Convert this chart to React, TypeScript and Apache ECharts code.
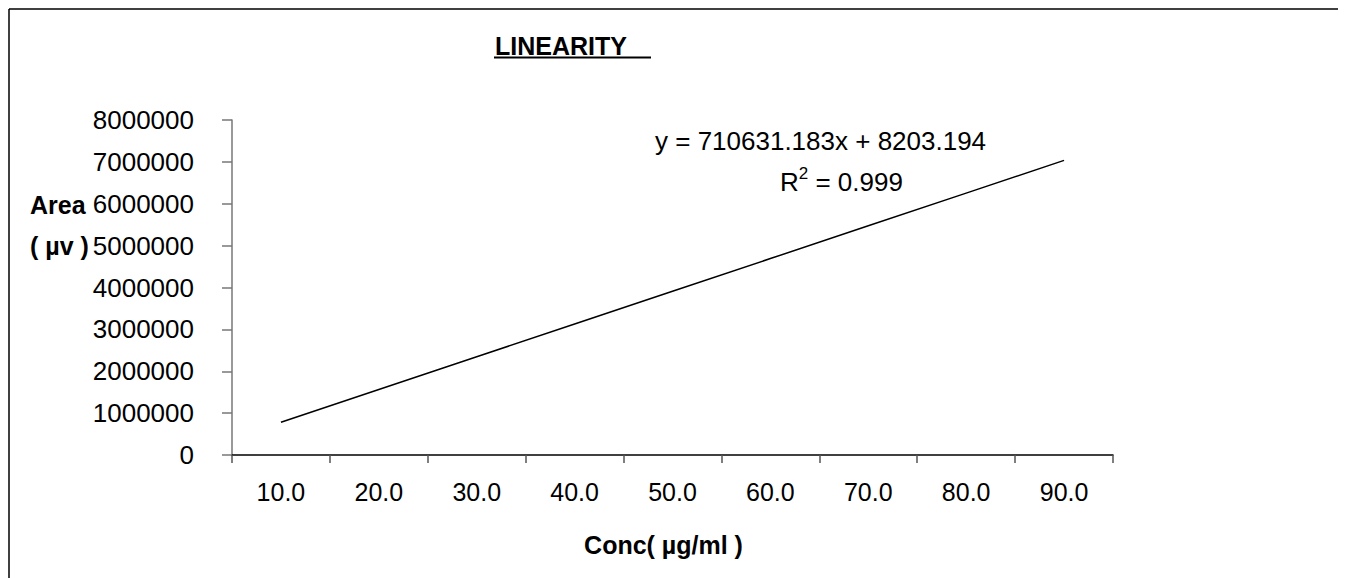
import React, { useEffect, useRef } from "react";
import * as echarts from "echarts";

const concLabels = ["10.0", "20.0", "30.0", "40.0", "50.0", "60.0", "70.0", "80.0", "90.0"];
const areaValues = [781500, 1563400, 2345200, 3127100, 3908900, 4690800, 5472600, 6254500, 7036300];
const yMin = 0;
const yMax = 8000000;
const yStep = 1000000;
const titleText = "LINEARITY";
const equationText = "y = 710631.183x + 8203.194";
const r2Value = "0.999";
const xName = "Conc( µg/ml )";
const yNameLines = ["Area", "( µv )"];

const FONT = "'Liberation Sans', Arial, Helvetica, sans-serif";

export default function App() {
  const ref = useRef<HTMLDivElement>(null);

  useEffect(() => {
    document.documentElement.style.overflow = "hidden";
    if (!ref.current) return;
    const chart = echarts.init(ref.current, null, { renderer: "svg" });
    chart.setOption({
      animation: false,
      backgroundColor: "#ffffff",
      grid: { left: 224, top: 112, width: 881, height: 335, containLabel: false },
      xAxis: {
        type: "category",
        data: concLabels,
        boundaryGap: true,
        name: xName,
        nameLocation: "middle",
        nameGap: 90,
        nameTextStyle: {
          fontFamily: FONT,
          fontSize: 25,
          fontWeight: "bold",
          color: "#000",
          verticalAlign: "middle",
          padding: [0, 18, 0, 0],
        },
        axisLine: { show: true, lineStyle: { color: "#000", width: 1.5 } },
        axisTick: { show: true, length: 8, alignWithLabel: false, lineStyle: { color: "#555", width: 1.5 } },
        axisLabel: { margin: 24, fontFamily: FONT, fontSize: 25, color: "#000" },
        splitLine: { show: false },
      },
      yAxis: {
        type: "value",
        min: yMin,
        max: yMax,
        interval: yStep,
        axisLine: { show: true, lineStyle: { color: "#777", width: 1.5 } },
        axisTick: { show: true, length: 10, lineStyle: { color: "#777", width: 1.5 } },
        axisLabel: {
          margin: 38,
          fontFamily: FONT,
          fontSize: 26,
          color: "#000",
          formatter: (v: number) => String(v),
        },
        splitLine: { show: false },
      },
      series: [
        {
          type: "line",
          data: areaValues,
          showSymbol: false,
          symbol: "none",
          lineStyle: { color: "#000", width: 1.5 },
        },
      ],
      graphic: [
        { type: "line", shape: { x1: 1, y1: 1, x2: 1338, y2: 1 }, style: { stroke: "#000", lineWidth: 1.5 } },
        { type: "line", shape: { x1: 1, y1: 1, x2: 1, y2: 570 }, style: { stroke: "#000", lineWidth: 1.5 } },
        {
          type: "text",
          left: 487,
          top: 25,
          style: { text: titleText, font: `bold 25px ${FONT}`, fill: "#000" },
        },
        { type: "line", shape: { x1: 486, y1: 49.5, x2: 643, y2: 49.5 }, style: { stroke: "#000", lineWidth: 2 } },
        {
          type: "text",
          x: 647,
          y: 133,
          style: { text: equationText, font: `26px ${FONT}`, fill: "#000", verticalAlign: "middle" },
        },
        {
          type: "text",
          x: 772,
          y: 172,
          style: {
            text: `{r|R}{s|2}{r| = ${r2Value}}`,
            verticalAlign: "middle",
            rich: {
              r: { fontFamily: FONT, fontSize: 26, fill: "#000", color: "#000", verticalAlign: "bottom", lineHeight: 30 },
              s: { fontFamily: FONT, fontSize: 17, fill: "#000", color: "#000", verticalAlign: "top", lineHeight: 30 },
            },
          },
        },
        {
          type: "text",
          x: 22,
          y: 197,
          style: { text: yNameLines[0], font: `bold 25px ${FONT}`, fill: "#000", verticalAlign: "middle" },
        },
        {
          type: "text",
          x: 22,
          y: 238,
          style: { text: yNameLines[1], font: `bold 25px ${FONT}`, fill: "#000", verticalAlign: "middle" },
        },
      ],
    });
    return () => chart.dispose();
  }, []);

  return <div ref={ref} style={{ width: 1338, height: 570 }} />;
}
